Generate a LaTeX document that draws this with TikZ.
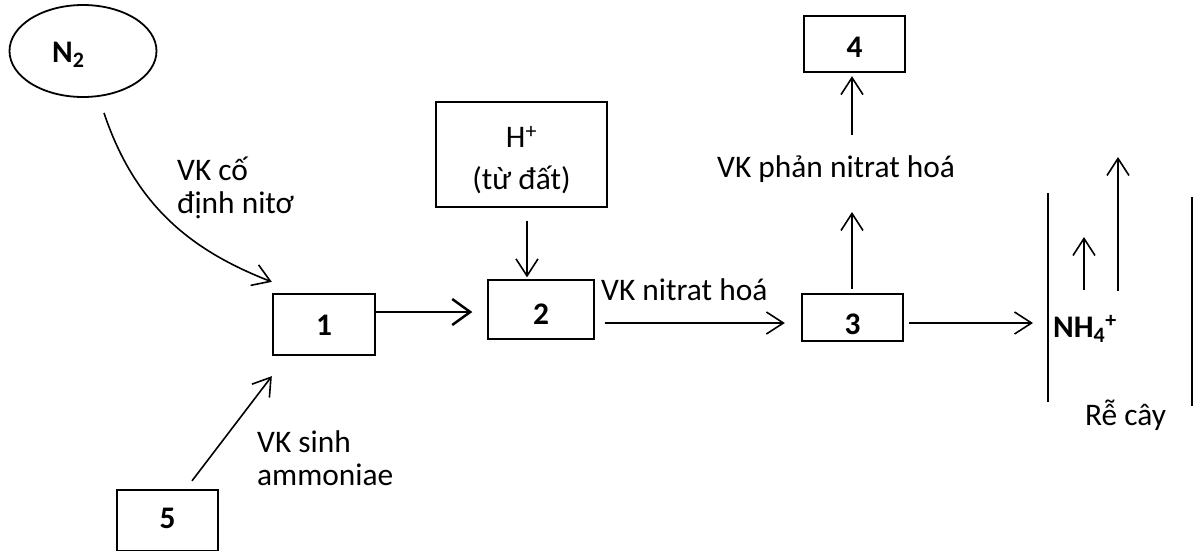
\documentclass[tikz,border=0pt]{standalone}
\usepackage{fontspec}
\setmainfont{Carlito}
\usetikzlibrary{arrows.meta,shapes.geometric}

\begin{document}
\begin{tikzpicture}[x=1pt,y=-1pt,
  every node/.style={font=\fontsize{31.4}{33}\selectfont},
  thickline/.style={line width=2.3pt},
  thinline/.style={line width=1.3pt},
  arr/.style={line width=1.6pt,-{Straight Barb[length=17pt,width=22pt]}},
  boldarr/.style={line width=2.5pt,-{Straight Barb[length=18pt,width=26pt]}},
  numbox/.style={draw,thickline,inner sep=0pt,font=\fontsize{31.4}{33}\selectfont\bfseries},
  lbl/.style={inner sep=0pt,anchor=base west}
]
\useasboundingbox (0,0) rectangle (1195,550);
\clip (0,0) rectangle (1195,550);

% nitrogen source
\node[draw,ellipse,line width=1.8pt,minimum width=147pt,minimum height=92pt] (n2) at (83,51) {};
\node[lbl,font=\fontsize{31.4}{33}\selectfont\bfseries] (n2t) at (52,62) {N\textsubscript{2}};

% numbered boxes
\node[numbox,minimum width=102pt,text height=41pt,text depth=20pt] (b1) at (324,324.5) {1};
\node[numbox,thinline,minimum width=106pt,text height=44pt,text depth=15pt] (b2) at (541,309.5) {2};
\node[numbox,minimum width=101pt,text height=40pt,text depth=7pt] (b3) at (852.5,317.5) {3};
\node[numbox,minimum width=101pt,text height=41pt,text depth=15pt] (b4) at (854.5,44) {4};
\node[numbox,minimum width=101pt,text height=38pt,text depth=23pt] (b5) at (167.5,520.5) {5};

% hydrogen ions from the soil
\node[draw,thinline,minimum width=171pt,minimum height=105pt,align=center,
      font=\fontsize{31.4}{42}\selectfont] (hb) at (521.5,154.5)
      {\rule{0pt}{32pt}H\textsuperscript{+}\\(từ đất)};

% labels
\node[lbl] (cd1) at (177,180) {VK cố};
\node[lbl] (cd2) at (177,213) {định nitơ};
\node[lbl] (sa1) at (257,452) {VK sinh};
\node[lbl] (sa2) at (257,485) {ammoniae};
\node[lbl] (nh) at (601,300) {VK nitrat hoá};
\node[lbl] (pn) at (717,177) {VK phản nitrat hoá};
\node[lbl,font=\fontsize{31.4}{33}\selectfont\bfseries] (nh4) at (1053,337) {NH\textsubscript{4}\textsuperscript{+}};
\node[lbl] (rc) at (1085,425) {Rễ cây};

% root walls
\coordinate (rl1) at (1048,193);
\coordinate (rl2) at (1048,402);
\coordinate (rr1) at (1192,197);
\coordinate (rr2) at (1192,406);
\draw[thickline] (rl1) -- (rl2);
\draw[thickline] (rr1) -- (rr2);

% free ends of connectors
\coordinate (pnlow) at (852,212);
\coordinate (pnhigh) at (852,135);
\coordinate (rin) at (1033,323);
\coordinate (up1s) at (1084,290);
\coordinate (up1e) at (1084,237);
\coordinate (up2s) at (1118,291);
\coordinate (up2e) at (1118,157);

% connectors
\draw[arr] ([shift={(21,62)}]n2.center) .. controls (135,205) and (190,250) .. ([shift={(0,-11)}]b1.north west);
\draw[arr] ([shift={(24.5,-8)}]b5.north) -- ([shift={(0,20)}]b1.south west);
\draw[boldarr] ([shift={(0,-12.5)}]b1.east) -- ([shift={(-15,2.5)}]b2.west);
\draw[arr] ([shift={(5.5,13)}]hb.south) -- ([shift={(-14,-2)}]b2.north);
\draw[arr] ([shift={(10,13.5)}]b2.east) -- ([shift={(-16,5.5)}]b3.west);
\draw[arr] ([shift={(-0.5,-4)}]b3.north) -- (pnlow);
\draw[arr] (pnhigh) -- ([shift={(-2.5,3)}]b4.south);
\draw[arr] ([shift={(5,5.5)}]b3.east) -- (rin);
\draw[arr] (up1s) -- (up1e);
\draw[arr] (up2s) -- (up2e);
\end{tikzpicture}
\end{document}
